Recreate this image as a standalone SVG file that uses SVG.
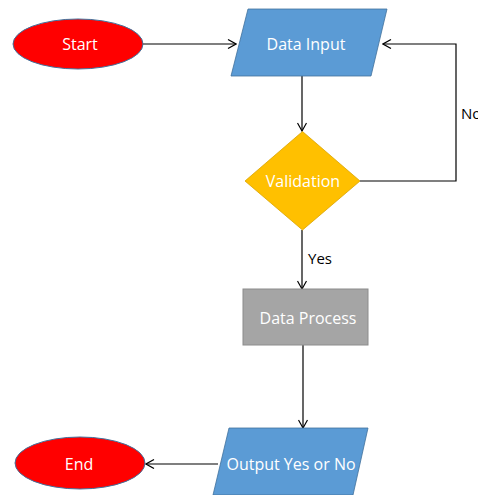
<svg xmlns="http://www.w3.org/2000/svg" width="478" height="495" viewBox="0 0 478 495">
  <style>
    .lbl { font-family: "Open Sans", "Liberation Sans", sans-serif; font-size: 16px; fill: #ffffff; text-anchor: middle; dominant-baseline: central; }
    .edge-lbl { font-family: "Open Sans", "Liberation Sans", sans-serif; font-size: 15px; fill: #000000; }
    .term { fill: #ff0000; stroke: #41719c; stroke-width: 1; }
    .io { fill: #5b9bd5; stroke: #41719c; stroke-width: 0.8; }
    .dec { fill: #ffc000; stroke: #d9a300; stroke-width: 0.8; }
    .proc { fill: #a5a5a5; stroke: #8c8c8c; stroke-width: 1; }
    .conn { fill: none; stroke: #000000; stroke-width: 1.2; }
  </style>
  <defs>
    <marker id="arrow" viewBox="0 0 10 10" refX="9" refY="5" markerWidth="10" markerHeight="10" markerUnits="userSpaceOnUse" orient="auto">
      <polyline points="1,0.5 9,5 1,9.5" fill="none" stroke="#000" stroke-width="1.2"/>
    </marker>
  </defs>

  <rect width="478" height="495" fill="#ffffff"/>

  <g id="connectors">
    <line class="conn" x1="143" y1="44" x2="236" y2="44" marker-end="url(#arrow)"/>
    <line class="conn" x1="302" y1="76" x2="302" y2="131" marker-end="url(#arrow)"/>
    <polyline class="conn" points="360,181 456,181 456,44 383,44" marker-end="url(#arrow)"/>
    <line class="conn" x1="302" y1="230" x2="302" y2="289" marker-end="url(#arrow)"/>
    <line class="conn" x1="303" y1="345" x2="303" y2="428" marker-end="url(#arrow)"/>
    <line class="conn" x1="218" y1="464" x2="146" y2="464" marker-end="url(#arrow)"/>
    <text class="edge-lbl" x="461" y="119">No</text>
    <text class="edge-lbl" x="308" y="264">Yes</text>
  </g>

  <g id="start">
    <ellipse class="term" cx="78" cy="44" rx="65" ry="25"/>
    <text class="lbl" x="80" y="44">Start</text>
  </g>

  <g id="data-input">
    <polygon class="io" points="248,9 387,9 371,76 231,76"/>
    <text class="lbl" x="306" y="44">Data Input</text>
  </g>

  <g id="validation">
    <polygon class="dec" points="302.5,131.5 360,181 302.5,230 245,181"/>
    <text class="lbl" x="303" y="181">Validation</text>
  </g>

  <g id="data-process">
    <rect class="proc" x="243" y="289" width="125" height="56"/>
    <text class="lbl" x="308" y="318">Data Process</text>
  </g>

  <g id="output">
    <polygon class="io" points="229,428 368,428 353,495 213,495"/>
    <text class="lbl" x="291" y="464">Output Yes or No</text>
  </g>

  <g id="end">
    <ellipse class="term" cx="80" cy="463" rx="65" ry="26"/>
    <text class="lbl" x="79" y="464">End</text>
  </g>
</svg>
